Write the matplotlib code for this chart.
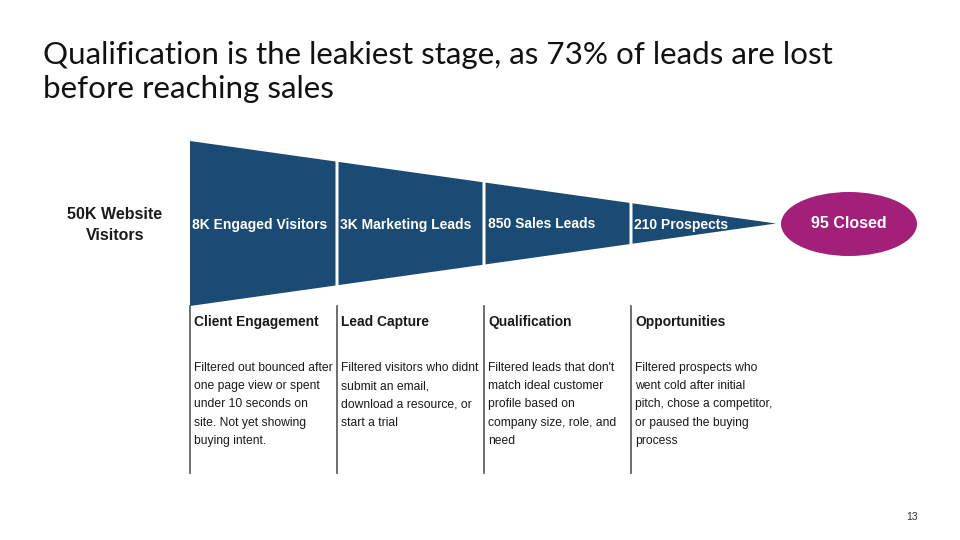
import matplotlib
matplotlib.use("Agg")
import matplotlib.pyplot as plt
from matplotlib.patches import Polygon, Ellipse

# data
source_label = "50K Website\nVisitors"
stage_labels = ["8K Engaged Visitors", "3K Marketing Leads", "850 Sales Leads", "210 Prospects"]
closed_label = "95 Closed"
stage_headers = ["Client Engagement", "Lead Capture", "Qualification", "Opportunities"]
stage_notes = [
    "Filtered out bounced after\none page view or spent\nunder 10 seconds on\nsite. Not yet showing\nbuying intent.",
    "Filtered visitors who didnt\nsubmit an email,\ndownload a resource, or\nstart a trial",
    "Filtered leads that don't\nmatch ideal customer\nprofile based on\ncompany size, role, and\nneed",
    "Filtered prospects who\nwent cold after initial\npitch, chose a competitor,\nor paused the buying\nprocess",
]
title = "Qualification is the leakiest stage, as 73% of leads are lost\nbefore reaching sales"
page_no = "13"

# layout (pixel coords on a 960x540 canvas)
funnel_left, funnel_tip = 190, 776
funnel_cy, funnel_half = 223.5, 82.5
seg_w = 147
gap = 1.5
navy = "#1b4a73"
magenta = "#a32079"
body_font = ["Liberation Sans", "DejaVu Sans"]

fig = plt.figure(figsize=(9.6, 5.4), dpi=100)
ax = fig.add_axes([0, 0, 1, 1])
ax.set_xlim(0, 960)
ax.set_ylim(540, 0)
ax.axis("off")

def half_h(x):
    return funnel_half * (funnel_tip - x) / (funnel_tip - funnel_left)

for i, lab in enumerate(stage_labels):
    x0 = funnel_left + i * seg_w + (gap if i > 0 else 0)
    x1 = funnel_left + (i + 1) * seg_w - gap if i < len(stage_labels) - 1 else funnel_tip
    pts = [(x0, funnel_cy - half_h(x0)), (x1, funnel_cy - half_h(x1)),
           (x1, funnel_cy + half_h(x1)), (x0, funnel_cy + half_h(x0))]
    ax.add_patch(Polygon(pts, closed=True, facecolor=navy, edgecolor="none"))
    ax.text(x0 + 2, funnel_cy + 1, lab, color="white", fontsize=10, fontweight="bold",
            family=body_font, ha="left", va="center")

    # column below
    cx = funnel_left + i * seg_w
    ax.plot([cx, cx], [306, 473], color="#555555", lw=1.2)
    ax.text(cx + 4, 322, stage_headers[i], fontsize=9.9, fontweight="bold",
            family=body_font, color="#1a1a1a", ha="left", va="center")
    ax.text(cx + 4, 362, stage_notes[i], fontsize=8.7, family=body_font,
            color="#1a1a1a", ha="left", va="top", linespacing=1.69)

ax.add_patch(Ellipse((849, 224), 136, 64, facecolor=magenta, edgecolor="none"))
ax.text(849, 224, closed_label, color="white", fontsize=11.5, fontweight="bold",
        family=body_font, ha="center", va="center")

ax.text(115, 225, source_label, fontsize=11.5, fontweight="bold", family=body_font,
        color="#1a1a1a", ha="center", va="center", linespacing=1.45)

ax.text(43, 72, title, fontsize=22.6, family="Lato", color="#111111",
        ha="left", va="center", linespacing=1.3)

ax.text(912, 517, page_no, fontsize=7.5, family=body_font, color="#333333",
        ha="center", va="center")

fig.savefig("out.png", dpi=100)
